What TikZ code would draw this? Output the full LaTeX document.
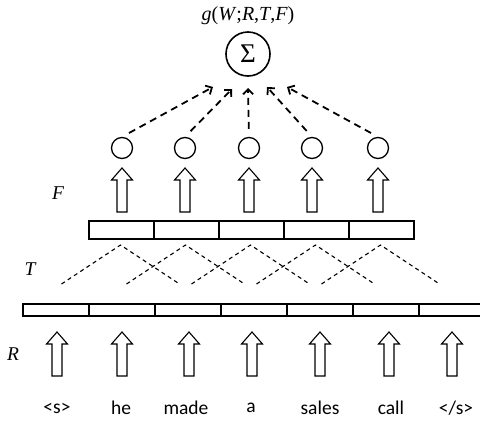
\documentclass[tikz,border=0pt]{standalone}
\usepackage{fontspec}
\setmainfont{Liberation Serif}
\newfontfamily\wordfont{Carlito}
\usepackage{tikz}
\usetikzlibrary{calc}
\usetikzlibrary{arrows.meta}
\usetikzlibrary{positioning}

\tikzset{
  lowcell/.style={draw, line width=1.8pt, minimum width=66pt, minimum height=12pt, inner sep=0pt, outer sep=0pt},
  upcell/.style={draw, line width=1.8pt, minimum width=65pt, minimum height=18pt, inner sep=0pt, outer sep=0pt},
  bulb/.style={draw, circle, line width=1.3pt, minimum size=21pt, inner sep=0pt},
  sumnode/.style={draw, circle, line width=1.6pt, minimum size=44pt, inner sep=0pt, font=\fontsize{27}{29}\selectfont},
  sumarrow/.style={-{Straight Barb[length=5pt,width=10pt]}, line width=1.8pt, dash pattern=on 7pt off 5pt, shorten <=8pt},
  tieline/.style={line width=1.1pt, dash pattern=on 4pt off 3.5pt},
  wordlabel/.style={font=\wordfont\fontsize{19.5}{21}\selectfont},
  layerlabel/.style={font=\itshape\fontsize{19.5}{21}\selectfont},
  hollowup/.pic={\draw[line width=1.1pt, fill=white] (-5,0) -- (-5,-32) -- (-10.5,-32) -- (0,-44) -- (10.5,-32) -- (5,-32) -- (5,0) -- cycle;}
}

\begin{document}
\begin{tikzpicture}[x=1pt, y=-1pt]
  \clip (0,0) rectangle (480,421);

  % output
  \node[font=\fontsize{20}{22}\selectfont] (glabel) at (248,16) {\textit{g}(\textit{W};\textit{R},\textit{T},\textit{F})};
  \node[sumnode] (sigma) at (248,54) {Σ};

  % feature layer
  \foreach \x [count=\i] in {122,185,249,312,378} {
    \node[bulb] (c\i) at (\x,148) {};
    \pic at (\x,212) {hollowup};
  }
  \foreach \dx/\dy [count=\i] in {-35/33,-16/35,0/34,19/33,39/33}
    \coordinate (t\i) at ($(sigma.center)+(\dx,\dy)$);
  \foreach \i in {1,...,5}
    \draw[sumarrow] (c\i.north) -- (t\i);

  % tag layer
  \node[upcell] (u1) at (121.5,230) {};
  \foreach \i [count=\j from 2] in {1,...,4}
    \node[upcell, right=0pt of u\i] (u\j) {};
  \foreach \i in {1,...,5} {
    \coordinate (p\i) at ($(u\i.south)+(-1,6)$);
    \draw[tieline] ($(p\i)+(-59,39)$) -- (p\i) -- ($(p\i)+(59,39)$);
  }

  % word layer
  \node[lowcell] (l1) at (56,310) {};
  \foreach \i [count=\j from 2] in {1,...,6}
    \node[lowcell, right=0pt of l\i] (l\j) {};
  \foreach \x in {57,122,189,252,320,389,452}
    \pic at (\x,376) {hollowup};

  \foreach \w/\x [count=\i] in {{<s>}/57,he/121,made/186,a/251,sales/320,call/391,{</s>}/456}
    \node[wordlabel] (w\i) at (\x,408) {\w};

  \node[layerlabel] (flabel) at (58,193) {F};
  \node[layerlabel] (tlabel) at (30,269) {T};
  \node[layerlabel] (rlabel) at (13,354) {R};
\end{tikzpicture}
\end{document}
